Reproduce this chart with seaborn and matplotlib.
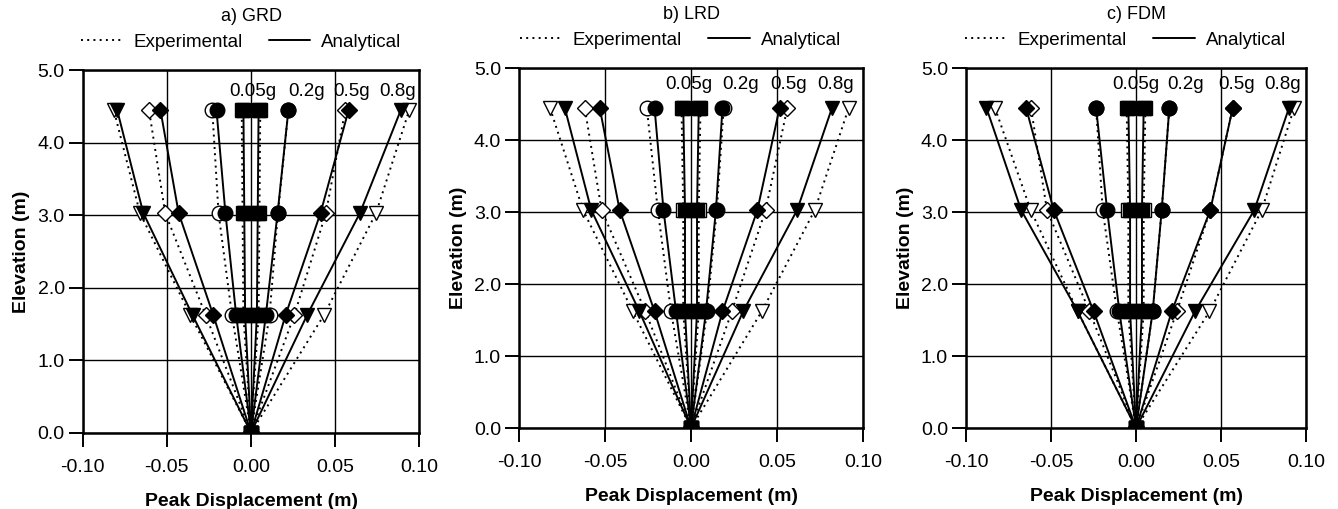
import matplotlib
matplotlib.use("Agg")
import matplotlib.pyplot as plt
from matplotlib.lines import Line2D
import seaborn as sns
import numpy as np

# ---------------- data ----------------
elevation = [0.0, 1.62, 3.03, 4.45]          # m
intensities = ["0.05g", "0.2g", "0.5g", "0.8g"]
panel_titles = ["a) GRD", "b) LRD", "c) FDM"]
xticks = [-0.10, -0.05, 0.00, 0.05, 0.10]
yticks = [0.0, 1.0, 2.0, 3.0, 4.0, 5.0]

# each intensity: (exp_neg, ana_neg, ana_pos, exp_pos) peak displacement at elevations
grd = {
    "0.05g": ([0, -0.0045, -0.005, -0.0055], [0, -0.0035, -0.004, -0.0045],
              [0, 0.0035, 0.004, 0.0045], [0, 0.0045, 0.005, 0.0055]),
    "0.2g": ([0, -0.0113, -0.0193, -0.0230], [0, -0.0088, -0.0152, -0.0205],
             [0, 0.0088, 0.0158, 0.0222], [0, 0.0110, 0.0160, 0.0222]),
    "0.5g": ([0, -0.0269, -0.0510, -0.0606], [0, -0.0224, -0.0430, -0.0538],
             [0, 0.0205, 0.0413, 0.0580], [0, 0.0257, 0.0445, 0.0560]),
    "0.8g": ([0, -0.0360, -0.0660, -0.0815], [0, -0.0347, -0.0640, -0.0795],
             [0, 0.0333, 0.0647, 0.0890], [0, 0.0433, 0.0743, 0.0940]),
}
lrd = {
    "0.05g": ([0, -0.0045, -0.0045, -0.0055], [0, -0.0035, -0.0035, -0.0045],
              [0, 0.0035, 0.0035, 0.0045], [0, 0.0045, 0.0045, 0.0055]),
    "0.2g": ([0, -0.0116, -0.0193, -0.0257], [0, -0.0087, -0.0160, -0.0212],
             [0, 0.0087, 0.0145, 0.0183], [0, 0.0093, 0.0150, 0.0190]),
    "0.5g": ([0, -0.0265, -0.0520, -0.0618], [0, -0.0212, -0.0415, -0.0531],
             [0, 0.0183, 0.0386, 0.0515], [0, 0.0237, 0.0434, 0.0560]),
    "0.8g": ([0, -0.0338, -0.0628, -0.0820], [0, -0.0300, -0.0580, -0.0734],
             [0, 0.0303, 0.0617, 0.0820], [0, 0.0411, 0.0720, 0.0917]),
}
fdm = {
    "0.05g": ([0, -0.0045, -0.0045, -0.0055], [0, -0.0035, -0.0035, -0.0045],
              [0, 0.0035, 0.0035, 0.0045], [0, 0.0045, 0.0045, 0.0055]),
    "0.2g": ([0, -0.0112, -0.0196, -0.0235], [0, -0.0098, -0.0170, -0.0235],
             [0, 0.0098, 0.0151, 0.0196], [0, 0.0098, 0.0151, 0.0196]),
    "0.5g": ([0, -0.0274, -0.0524, -0.0618], [0, -0.0249, -0.0484, -0.0647],
             [0, 0.0210, 0.0437, 0.0569], [0, 0.0240, 0.0437, 0.0569]),
    "0.8g": ([0, -0.0343, -0.0620, -0.0830], [0, -0.0343, -0.0676, -0.0880],
             [0, 0.0347, 0.0696, 0.0900], [0, 0.0432, 0.0740, 0.0930]),
}
panels = [grd, lrd, fdm]

# label positions (x, y) for intensity annotations
label_x = [[0.001, 0.033, 0.060, 0.087],
           [-0.001, 0.029, 0.057, 0.084],
           [0.000, 0.029, 0.059, 0.086]]
label_y = [4.70, 4.77, 4.77]

# ---------------- style ----------------
sns.set_theme(style="white")
plt.rcParams["font.family"] = ["Liberation Sans", "DejaVu Sans"]
plt.rcParams["axes.unicode_minus"] = False
plt.rcParams["text.color"] = "black"
plt.rcParams["axes.labelcolor"] = "black"

markers = {"0.05g": ("s", 10), "0.2g": ("o", 10.5), "0.5g": ("D", 8), "0.8g": ("v", 10.5)}
dotted = (0, (1, 2.2))

fig = plt.figure(figsize=(13.38, 5.09), dpi=100)
positions = [[0.0618, 0.150, 0.2516, 0.712],
             [0.3879, 0.159, 0.2571, 0.707],
             [0.7220, 0.159, 0.2541, 0.707]]

for p, (data, title, pos) in enumerate(zip(panels, panel_titles, positions)):
    ax = fig.add_axes(pos)
    # experimental first (dotted, open markers), analytical on top
    for kind in ("exp", "ana"):
        for g in intensities:
            exp_neg, ana_neg, ana_pos, exp_pos = data[g]
            series = (exp_neg, exp_pos) if kind == "exp" else (ana_neg, ana_pos)
            m, ms = markers[g]
            for xs in series:
                sns.lineplot(x=xs, y=elevation, ax=ax, sort=False, estimator=None,
                             color="black", lw=1.4,
                             linestyle=dotted if kind == "exp" else "-",
                             marker=m, markersize=ms,
                             markerfacecolor="white" if kind == "exp" else "black",
                             markeredgecolor="black", markeredgewidth=1.0)
    for g, lx in zip(intensities, label_x[p]):
        ax.text(lx, label_y[p], g, ha="center", va="center", fontsize=13.5, color="black")

    ax.set_xlim(-0.10, 0.10)
    ax.set_ylim(0.0, 5.0)
    ax.set_xticks(xticks)
    ax.set_yticks(yticks)
    ax.set_xticklabels([f"{v:.2f}" for v in xticks])
    ax.set_yticklabels([f"{v:.1f}" for v in yticks])
    ax.grid(True, color="black", lw=1.0)
    ax.set_axisbelow(True)
    for s in ax.spines.values():
        s.set_color("black")
        s.set_linewidth(1.8)
    ax.tick_params(axis="both", direction="out", length=10, width=1.4,
                   labelsize=14, colors="black",
                   left=True, bottom=True, top=False, right=False)
    ax.tick_params(axis="x", pad=9)
    ax.tick_params(axis="y", pad=3)
    ax.set_xlabel("Peak Displacement (m)", fontsize=14, fontweight="bold",
                  labelpad=12, color="black")
    ax.set_ylabel("Elevation (m)", fontsize=14, fontweight="bold", labelpad=5, color="black")
    ax.text(0.5, 1.148, title, transform=ax.transAxes, ha="center", va="center",
            fontsize=13, color="black")
    handles = [Line2D([], [], color="black", lw=1.4, linestyle=dotted),
               Line2D([], [], color="black", lw=1.4)]
    leg = ax.legend(handles, ["Experimental", "Analytical"], ncol=2, frameon=False,
                    loc="center", bbox_to_anchor=(0.47, 1.077), fontsize=13.5,
                    handlelength=2.2, columnspacing=1.4, handletextpad=0.6)
    for t in leg.get_texts():
        t.set_color("black")

fig.savefig("out.png", dpi=100)
